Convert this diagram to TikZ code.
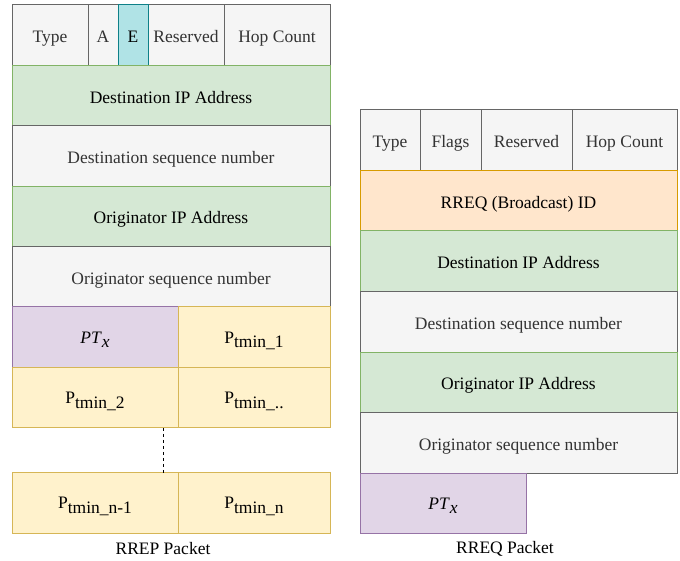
\documentclass[tikz,border=0pt]{standalone}
\usepackage{fontspec}
\setmainfont{Liberation Serif}
\definecolor{gfill}{HTML}{F5F5F5}\definecolor{gline}{HTML}{666666}\definecolor{gtext}{HTML}{333333}
\definecolor{grfill}{HTML}{D5E8D4}\definecolor{grline}{HTML}{82B366}
\definecolor{pfill}{HTML}{E1D5E7}\definecolor{pline}{HTML}{9673A6}
\definecolor{yfill}{HTML}{FFF2CC}\definecolor{yline}{HTML}{D6B656}
\definecolor{ofill}{HTML}{FFE6CC}\definecolor{oline}{HTML}{D79B00}
\definecolor{tfill}{HTML}{B0E3E6}\definecolor{tline}{HTML}{0E8088}
\newcommand{\Psub}[1]{P\raisebox{-4.5pt}{#1}}
\newcommand{\PTx}{\textit{PT}\raisebox{-4.5pt}{\itshape x}}
\tikzset{
  cell/.style={draw, line width=1pt, inner sep=0pt, outer sep=0pt, anchor=north west,
    font=\fontsize{17.5}{20}\selectfont, text height=15pt, text depth=0pt},
  subcell/.style={text height=12pt},
  graycell/.style={cell, fill=gfill, draw=gline, text=gtext},
  greencell/.style={cell, fill=grfill, draw=grline},
  purplecell/.style={cell, fill=pfill, draw=pline, subcell},
  yellowcell/.style={cell, fill=yfill, draw=yline, subcell},
  orangecell/.style={cell, fill=ofill, draw=oline},
  tealcell/.style={cell, fill=tfill, draw=tline},
  caption/.style={font=\fontsize{17.5}{20}\selectfont, inner sep=0pt}
}
\begin{document}
\begin{tikzpicture}[x=1pt,y=-1pt]
\useasboundingbox (0,0) rectangle (680,561);
% ---- RREP packet ----
\node[graycell, minimum width=76pt, minimum height=60.4pt] (ltype) at (12,5) {Type};
\node[graycell, minimum width=30pt, minimum height=60.4pt] (la) at (88,5) {A};
\node[graycell, minimum width=76pt, minimum height=60.4pt] (lres) at (148,5) {Reserved};
\node[graycell, minimum width=106pt, minimum height=60.4pt] (lhop) at (224,5) {Hop Count};
\node[tealcell, minimum width=30pt, minimum height=60.4pt] (le) at (118,5) {E};
\node[greencell, minimum width=318pt, minimum height=60.4pt] (ldip) at (12,65.4) {Destination IP Address};
\node[graycell, minimum width=318pt, minimum height=60.4pt] (ldsn) at (12,125.8) {Destination sequence number};
\node[greencell, minimum width=318pt, minimum height=60.4pt] (loip) at (12,186.2) {Originator IP Address};
\node[graycell, minimum width=318pt, minimum height=60.4pt] (losn) at (12,246.6) {Originator sequence number};
\node[purplecell, minimum width=166pt, minimum height=60.4pt] (lpt) at (12,307) {\PTx};
\node[yellowcell, minimum width=152pt, minimum height=60.4pt] (lp1) at (178,307) {\Psub{tmin\_1}};
\node[yellowcell, minimum width=166pt, minimum height=60.4pt] (lp2) at (12,367.4) {\Psub{tmin\_2}};
\node[yellowcell, minimum width=152pt, minimum height=60.4pt] (lpd) at (178,367.4) {\Psub{tmin\_..}};
\node[yellowcell, minimum width=166pt, minimum height=60.4pt] (lpn1) at (12,472.6) {\Psub{tmin\_n-1}};
\node[yellowcell, minimum width=152pt, minimum height=60.4pt] (lpn) at (178,472.6) {\Psub{tmin\_n}};
\coordinate (dtop) at (163,427.8);
\coordinate (dbot) at (163,472.6);
\draw[dashed, line width=1pt] (dtop) -- (dbot);
\node[caption] (lcap) at (163,549) {RREP Packet};
% ---- RREQ packet ----
\node[graycell, minimum width=60pt, minimum height=60.5pt] (rtype) at (360,110) {Type};
\node[graycell, minimum width=61pt, minimum height=60.5pt] (rflags) at (420,110) {Flags};
\node[graycell, minimum width=91pt, minimum height=60.5pt] (rres) at (481,110) {Reserved};
\node[graycell, minimum width=105pt, minimum height=60.5pt] (rhop) at (572,110) {Hop Count};
\node[orangecell, minimum width=317pt, minimum height=60.5pt] (rid) at (360,170.5) {RREQ (Broadcast) ID};
\node[greencell, minimum width=317pt, minimum height=60.5pt] (rdip) at (360,231) {Destination IP Address};
\node[graycell, minimum width=317pt, minimum height=60.5pt] (rdsn) at (360,291.5) {Destination sequence number};
\node[greencell, minimum width=317pt, minimum height=60.5pt] (roip) at (360,352) {Originator IP Address};
\node[graycell, minimum width=317pt, minimum height=60.5pt] (rosn) at (360,412.5) {Originator sequence number};
\node[purplecell, minimum width=166pt, minimum height=60.5pt] (rpt) at (360,473) {\PTx};
\node[caption] (rcap) at (505,549) {RREQ Packet};
\end{tikzpicture}
\end{document}
